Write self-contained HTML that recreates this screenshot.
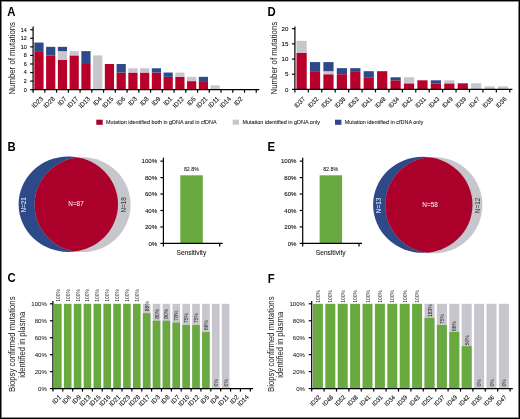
<!DOCTYPE html>
<html><head><meta charset="utf-8"><style>
html,body{margin:0;padding:0;background:#fff;}
body{width:520px;height:419px;overflow:hidden;position:relative;}
svg{position:absolute;left:0;top:0;display:block;will-change:transform;}
svg text{font-family:"Liberation Sans", sans-serif;}
</style></head><body>
<svg width="520" height="419" viewBox="0 0 520 419">
<defs><filter id="soft" x="0" y="0" width="1" height="1"><feGaussianBlur stdDeviation="0.35"/></filter></defs>
<rect x="0" y="0" width="520" height="419" fill="#fff"/>
<g filter="url(#soft)">
<rect x="0" y="0" width="520" height="419" fill="#fff"/>
<text x="7.2" y="15.5" font-size="12.6" text-anchor="start" fill="#000" font-weight="bold" textLength="8.19" lengthAdjust="spacingAndGlyphs">A</text>
<text x="7.6" y="150.7" font-size="12.6" text-anchor="start" fill="#000" font-weight="bold" textLength="8.19" lengthAdjust="spacingAndGlyphs">B</text>
<text x="7.4" y="282.4" font-size="12.6" text-anchor="start" fill="#000" font-weight="bold" textLength="8.19" lengthAdjust="spacingAndGlyphs">C</text>
<text x="267.4" y="15.6" font-size="12.6" text-anchor="start" fill="#000" font-weight="bold" textLength="8.19" lengthAdjust="spacingAndGlyphs">D</text>
<text x="267.6" y="150.8" font-size="12.6" text-anchor="start" fill="#000" font-weight="bold" textLength="7.56" lengthAdjust="spacingAndGlyphs">E</text>
<text x="267.8" y="282.5" font-size="12.6" text-anchor="start" fill="#000" font-weight="bold" textLength="6.93" lengthAdjust="spacingAndGlyphs">F</text>
<rect x="34.37" y="51.13" width="9.2" height="38.57" fill="#b7002c"/>
<rect x="34.37" y="42.55" width="9.2" height="8.57" fill="#2f4987"/>
<text x="43.57" y="99.3" font-size="6.5" text-anchor="end" fill="#111" stroke="#111" stroke-width="0.1" transform="rotate(-45 43.57 99.3)" textLength="13.04" lengthAdjust="spacingAndGlyphs">ID23</text>
<rect x="46.12" y="55.41" width="9.2" height="34.29" fill="#b7002c"/>
<rect x="46.12" y="46.84" width="9.2" height="8.57" fill="#2f4987"/>
<text x="55.32" y="99.3" font-size="6.5" text-anchor="end" fill="#111" stroke="#111" stroke-width="0.1" transform="rotate(-45 55.32 99.3)" textLength="13.04" lengthAdjust="spacingAndGlyphs">ID28</text>
<rect x="57.86" y="59.7" width="9.2" height="30" fill="#b7002c"/>
<rect x="57.86" y="51.13" width="9.2" height="8.57" fill="#c7c6cc"/>
<rect x="57.86" y="46.84" width="9.2" height="4.29" fill="#2f4987"/>
<text x="67.06" y="99.3" font-size="6.5" text-anchor="end" fill="#111" stroke="#111" stroke-width="0.1" transform="rotate(-45 67.06 99.3)" textLength="9.61" lengthAdjust="spacingAndGlyphs">ID7</text>
<rect x="69.61" y="55.41" width="9.2" height="34.29" fill="#b7002c"/>
<rect x="69.61" y="51.13" width="9.2" height="4.29" fill="#c7c6cc"/>
<text x="78.81" y="99.3" font-size="6.5" text-anchor="end" fill="#111" stroke="#111" stroke-width="0.1" transform="rotate(-45 78.81 99.3)" textLength="13.04" lengthAdjust="spacingAndGlyphs">ID17</text>
<rect x="81.35" y="63.98" width="9.2" height="25.72" fill="#b7002c"/>
<rect x="81.35" y="51.13" width="9.2" height="12.86" fill="#2f4987"/>
<text x="90.55" y="99.3" font-size="6.5" text-anchor="end" fill="#111" stroke="#111" stroke-width="0.1" transform="rotate(-45 90.55 99.3)" textLength="13.04" lengthAdjust="spacingAndGlyphs">ID13</text>
<rect x="93.1" y="55.41" width="9.2" height="34.29" fill="#c7c6cc"/>
<text x="102.3" y="99.3" font-size="6.5" text-anchor="end" fill="#111" stroke="#111" stroke-width="0.1" transform="rotate(-45 102.3 99.3)" textLength="9.61" lengthAdjust="spacingAndGlyphs">ID4</text>
<rect x="104.84" y="63.98" width="9.2" height="25.72" fill="#b7002c"/>
<text x="114.04" y="99.3" font-size="6.5" text-anchor="end" fill="#111" stroke="#111" stroke-width="0.1" transform="rotate(-45 114.04 99.3)" textLength="13.04" lengthAdjust="spacingAndGlyphs">ID15</text>
<rect x="116.59" y="72.56" width="9.2" height="17.14" fill="#b7002c"/>
<rect x="116.59" y="63.98" width="9.2" height="8.57" fill="#2f4987"/>
<text x="125.79" y="99.3" font-size="6.5" text-anchor="end" fill="#111" stroke="#111" stroke-width="0.1" transform="rotate(-45 125.79 99.3)" textLength="9.61" lengthAdjust="spacingAndGlyphs">ID6</text>
<rect x="128.33" y="72.56" width="9.2" height="17.14" fill="#b7002c"/>
<rect x="128.33" y="68.27" width="9.2" height="4.29" fill="#c7c6cc"/>
<text x="137.53" y="99.3" font-size="6.5" text-anchor="end" fill="#111" stroke="#111" stroke-width="0.1" transform="rotate(-45 137.53 99.3)" textLength="9.61" lengthAdjust="spacingAndGlyphs">ID3</text>
<rect x="140.08" y="72.56" width="9.2" height="17.14" fill="#b7002c"/>
<rect x="140.08" y="68.27" width="9.2" height="4.29" fill="#c7c6cc"/>
<text x="149.28" y="99.3" font-size="6.5" text-anchor="end" fill="#111" stroke="#111" stroke-width="0.1" transform="rotate(-45 149.28 99.3)" textLength="9.61" lengthAdjust="spacingAndGlyphs">ID8</text>
<rect x="151.82" y="72.56" width="9.2" height="17.14" fill="#b7002c"/>
<rect x="151.82" y="68.27" width="9.2" height="4.29" fill="#2f4987"/>
<text x="161.02" y="99.3" font-size="6.5" text-anchor="end" fill="#111" stroke="#111" stroke-width="0.1" transform="rotate(-45 161.02 99.3)" textLength="9.61" lengthAdjust="spacingAndGlyphs">ID9</text>
<rect x="163.57" y="76.84" width="9.2" height="12.86" fill="#b7002c"/>
<rect x="163.57" y="72.56" width="9.2" height="4.29" fill="#2f4987"/>
<text x="172.77" y="99.3" font-size="6.5" text-anchor="end" fill="#111" stroke="#111" stroke-width="0.1" transform="rotate(-45 172.77 99.3)" textLength="9.61" lengthAdjust="spacingAndGlyphs">ID1</text>
<rect x="175.31" y="76.84" width="9.2" height="12.86" fill="#b7002c"/>
<rect x="175.31" y="72.56" width="9.2" height="4.29" fill="#c7c6cc"/>
<text x="184.51" y="99.3" font-size="6.5" text-anchor="end" fill="#111" stroke="#111" stroke-width="0.1" transform="rotate(-45 184.51 99.3)" textLength="13.04" lengthAdjust="spacingAndGlyphs">ID12</text>
<rect x="187.06" y="81.13" width="9.2" height="8.57" fill="#b7002c"/>
<rect x="187.06" y="76.84" width="9.2" height="4.29" fill="#c7c6cc"/>
<text x="196.26" y="99.3" font-size="6.5" text-anchor="end" fill="#111" stroke="#111" stroke-width="0.1" transform="rotate(-45 196.26 99.3)" textLength="9.61" lengthAdjust="spacingAndGlyphs">ID5</text>
<rect x="198.8" y="81.13" width="9.2" height="8.57" fill="#b7002c"/>
<rect x="198.8" y="76.84" width="9.2" height="4.29" fill="#2f4987"/>
<text x="208" y="99.3" font-size="6.5" text-anchor="end" fill="#111" stroke="#111" stroke-width="0.1" transform="rotate(-45 208 99.3)" textLength="13.04" lengthAdjust="spacingAndGlyphs">ID21</text>
<rect x="210.55" y="85.41" width="9.2" height="4.29" fill="#c7c6cc"/>
<text x="219.75" y="99.3" font-size="6.5" text-anchor="end" fill="#111" stroke="#111" stroke-width="0.1" transform="rotate(-45 219.75 99.3)" textLength="12.58" lengthAdjust="spacingAndGlyphs">ID11</text>
<text x="231.49" y="99.3" font-size="6.5" text-anchor="end" fill="#111" stroke="#111" stroke-width="0.1" transform="rotate(-45 231.49 99.3)" textLength="13.04" lengthAdjust="spacingAndGlyphs">ID14</text>
<text x="243.24" y="99.3" font-size="6.5" text-anchor="end" fill="#111" stroke="#111" stroke-width="0.1" transform="rotate(-45 243.24 99.3)" textLength="9.61" lengthAdjust="spacingAndGlyphs">ID2</text>
<line x1="33.1" y1="26.6" x2="33.1" y2="90.3" stroke="#000" stroke-width="1.2"/>
<line x1="30.2" y1="89.7" x2="33.1" y2="89.7" stroke="#000" stroke-width="1.2"/>
<text x="26.8" y="91.55" font-size="6.1" text-anchor="end" fill="#111" stroke="#111" stroke-width="0.12" textLength="2.99" lengthAdjust="spacingAndGlyphs">0</text>
<line x1="30.2" y1="81.13" x2="33.1" y2="81.13" stroke="#000" stroke-width="1.2"/>
<text x="26.8" y="82.98" font-size="6.1" text-anchor="end" fill="#111" stroke="#111" stroke-width="0.12" textLength="2.99" lengthAdjust="spacingAndGlyphs">2</text>
<line x1="30.2" y1="72.56" x2="33.1" y2="72.56" stroke="#000" stroke-width="1.2"/>
<text x="26.8" y="74.41" font-size="6.1" text-anchor="end" fill="#111" stroke="#111" stroke-width="0.12" textLength="2.99" lengthAdjust="spacingAndGlyphs">4</text>
<line x1="30.2" y1="63.98" x2="33.1" y2="63.98" stroke="#000" stroke-width="1.2"/>
<text x="26.8" y="65.83" font-size="6.1" text-anchor="end" fill="#111" stroke="#111" stroke-width="0.12" textLength="2.99" lengthAdjust="spacingAndGlyphs">6</text>
<line x1="30.2" y1="55.41" x2="33.1" y2="55.41" stroke="#000" stroke-width="1.2"/>
<text x="26.8" y="57.26" font-size="6.1" text-anchor="end" fill="#111" stroke="#111" stroke-width="0.12" textLength="2.99" lengthAdjust="spacingAndGlyphs">8</text>
<line x1="30.2" y1="46.84" x2="33.1" y2="46.84" stroke="#000" stroke-width="1.2"/>
<text x="26.8" y="48.69" font-size="6.1" text-anchor="end" fill="#111" stroke="#111" stroke-width="0.12" textLength="5.97" lengthAdjust="spacingAndGlyphs">10</text>
<line x1="30.2" y1="38.27" x2="33.1" y2="38.27" stroke="#000" stroke-width="1.2"/>
<text x="26.8" y="40.12" font-size="6.1" text-anchor="end" fill="#111" stroke="#111" stroke-width="0.12" textLength="5.97" lengthAdjust="spacingAndGlyphs">12</text>
<line x1="30.2" y1="29.7" x2="33.1" y2="29.7" stroke="#000" stroke-width="1.2"/>
<text x="26.8" y="31.55" font-size="6.1" text-anchor="end" fill="#111" stroke="#111" stroke-width="0.12" textLength="5.97" lengthAdjust="spacingAndGlyphs">14</text>
<line x1="32.5" y1="89.7" x2="259.3" y2="89.7" stroke="#000" stroke-width="1.2"/>
<line x1="33.1" y1="89.7" x2="33.1" y2="92.7" stroke="#000" stroke-width="1.2"/>
<line x1="44.84" y1="89.7" x2="44.84" y2="92.7" stroke="#000" stroke-width="1.2"/>
<line x1="56.59" y1="89.7" x2="56.59" y2="92.7" stroke="#000" stroke-width="1.2"/>
<line x1="68.34" y1="89.7" x2="68.34" y2="92.7" stroke="#000" stroke-width="1.2"/>
<line x1="80.08" y1="89.7" x2="80.08" y2="92.7" stroke="#000" stroke-width="1.2"/>
<line x1="91.82" y1="89.7" x2="91.82" y2="92.7" stroke="#000" stroke-width="1.2"/>
<line x1="103.57" y1="89.7" x2="103.57" y2="92.7" stroke="#000" stroke-width="1.2"/>
<line x1="115.31" y1="89.7" x2="115.31" y2="92.7" stroke="#000" stroke-width="1.2"/>
<line x1="127.06" y1="89.7" x2="127.06" y2="92.7" stroke="#000" stroke-width="1.2"/>
<line x1="138.81" y1="89.7" x2="138.81" y2="92.7" stroke="#000" stroke-width="1.2"/>
<line x1="150.55" y1="89.7" x2="150.55" y2="92.7" stroke="#000" stroke-width="1.2"/>
<line x1="162.29" y1="89.7" x2="162.29" y2="92.7" stroke="#000" stroke-width="1.2"/>
<line x1="174.04" y1="89.7" x2="174.04" y2="92.7" stroke="#000" stroke-width="1.2"/>
<line x1="185.78" y1="89.7" x2="185.78" y2="92.7" stroke="#000" stroke-width="1.2"/>
<line x1="197.53" y1="89.7" x2="197.53" y2="92.7" stroke="#000" stroke-width="1.2"/>
<line x1="209.27" y1="89.7" x2="209.27" y2="92.7" stroke="#000" stroke-width="1.2"/>
<line x1="221.02" y1="89.7" x2="221.02" y2="92.7" stroke="#000" stroke-width="1.2"/>
<line x1="232.76" y1="89.7" x2="232.76" y2="92.7" stroke="#000" stroke-width="1.2"/>
<line x1="244.51" y1="89.7" x2="244.51" y2="92.7" stroke="#000" stroke-width="1.2"/>
<line x1="256.25" y1="89.7" x2="256.25" y2="92.7" stroke="#000" stroke-width="1.2"/>
<text x="14.9" y="58.3" font-size="9.2" text-anchor="middle" fill="#1a1a1a" transform="rotate(-90 14.9 58.3)" textLength="72.6" lengthAdjust="spacingAndGlyphs">Number of mutations</text>
<rect x="296.51" y="52.98" width="10.2" height="36.42" fill="#b7002c"/>
<rect x="296.51" y="40.84" width="10.2" height="12.14" fill="#c7c6cc"/>
<text x="305.51" y="99.5" font-size="6.2" text-anchor="end" fill="#111" stroke="#111" stroke-width="0.1" transform="rotate(-45 305.51 99.5)" textLength="12.44" lengthAdjust="spacingAndGlyphs">ID37</text>
<rect x="309.94" y="71.19" width="10.2" height="18.21" fill="#b7002c"/>
<rect x="309.94" y="62.08" width="10.2" height="9.11" fill="#2f4987"/>
<text x="318.94" y="99.5" font-size="6.2" text-anchor="end" fill="#111" stroke="#111" stroke-width="0.1" transform="rotate(-45 318.94 99.5)" textLength="12.44" lengthAdjust="spacingAndGlyphs">ID32</text>
<rect x="323.37" y="74.23" width="10.2" height="15.18" fill="#b7002c"/>
<rect x="323.37" y="71.19" width="10.2" height="3.04" fill="#c7c6cc"/>
<rect x="323.37" y="62.09" width="10.2" height="9.11" fill="#2f4987"/>
<text x="332.37" y="99.5" font-size="6.2" text-anchor="end" fill="#111" stroke="#111" stroke-width="0.1" transform="rotate(-45 332.37 99.5)" textLength="12.44" lengthAdjust="spacingAndGlyphs">ID51</text>
<rect x="336.8" y="74.23" width="10.2" height="15.18" fill="#b7002c"/>
<rect x="336.8" y="68.16" width="10.2" height="6.07" fill="#2f4987"/>
<text x="345.8" y="99.5" font-size="6.2" text-anchor="end" fill="#111" stroke="#111" stroke-width="0.1" transform="rotate(-45 345.8 99.5)" textLength="12.44" lengthAdjust="spacingAndGlyphs">ID38</text>
<rect x="350.23" y="71.19" width="10.2" height="18.21" fill="#b7002c"/>
<rect x="350.23" y="68.16" width="10.2" height="3.04" fill="#2f4987"/>
<text x="359.23" y="99.5" font-size="6.2" text-anchor="end" fill="#111" stroke="#111" stroke-width="0.1" transform="rotate(-45 359.23 99.5)" textLength="12.44" lengthAdjust="spacingAndGlyphs">ID52</text>
<rect x="363.66" y="77.26" width="10.2" height="12.14" fill="#b7002c"/>
<rect x="363.66" y="71.19" width="10.2" height="6.07" fill="#2f4987"/>
<text x="372.66" y="99.5" font-size="6.2" text-anchor="end" fill="#111" stroke="#111" stroke-width="0.1" transform="rotate(-45 372.66 99.5)" textLength="12.44" lengthAdjust="spacingAndGlyphs">ID41</text>
<rect x="377.09" y="71.19" width="10.2" height="18.21" fill="#b7002c"/>
<text x="386.09" y="99.5" font-size="6.2" text-anchor="end" fill="#111" stroke="#111" stroke-width="0.1" transform="rotate(-45 386.09 99.5)" textLength="12.44" lengthAdjust="spacingAndGlyphs">ID48</text>
<rect x="390.52" y="80.3" width="10.2" height="9.11" fill="#b7002c"/>
<rect x="390.52" y="77.26" width="10.2" height="3.04" fill="#2f4987"/>
<text x="399.52" y="99.5" font-size="6.2" text-anchor="end" fill="#111" stroke="#111" stroke-width="0.1" transform="rotate(-45 399.52 99.5)" textLength="12.44" lengthAdjust="spacingAndGlyphs">ID34</text>
<rect x="403.95" y="83.33" width="10.2" height="6.07" fill="#b7002c"/>
<rect x="403.95" y="77.26" width="10.2" height="6.07" fill="#c7c6cc"/>
<text x="412.95" y="99.5" font-size="6.2" text-anchor="end" fill="#111" stroke="#111" stroke-width="0.1" transform="rotate(-45 412.95 99.5)" textLength="12.44" lengthAdjust="spacingAndGlyphs">ID42</text>
<rect x="417.38" y="80.3" width="10.2" height="9.11" fill="#b7002c"/>
<text x="426.38" y="99.5" font-size="6.2" text-anchor="end" fill="#111" stroke="#111" stroke-width="0.1" transform="rotate(-45 426.38 99.5)" textLength="12.44" lengthAdjust="spacingAndGlyphs">ID31</text>
<rect x="430.81" y="83.33" width="10.2" height="6.07" fill="#b7002c"/>
<rect x="430.81" y="80.3" width="10.2" height="3.04" fill="#2f4987"/>
<text x="439.81" y="99.5" font-size="6.2" text-anchor="end" fill="#111" stroke="#111" stroke-width="0.1" transform="rotate(-45 439.81 99.5)" textLength="12.44" lengthAdjust="spacingAndGlyphs">ID43</text>
<rect x="444.24" y="83.33" width="10.2" height="6.07" fill="#b7002c"/>
<rect x="444.24" y="80.3" width="10.2" height="3.04" fill="#c7c6cc"/>
<text x="453.24" y="99.5" font-size="6.2" text-anchor="end" fill="#111" stroke="#111" stroke-width="0.1" transform="rotate(-45 453.24 99.5)" textLength="12.44" lengthAdjust="spacingAndGlyphs">ID49</text>
<rect x="457.67" y="83.33" width="10.2" height="6.07" fill="#b7002c"/>
<text x="466.67" y="99.5" font-size="6.2" text-anchor="end" fill="#111" stroke="#111" stroke-width="0.1" transform="rotate(-45 466.67 99.5)" textLength="12.44" lengthAdjust="spacingAndGlyphs">ID39</text>
<rect x="471.1" y="83.33" width="10.2" height="6.07" fill="#c7c6cc"/>
<text x="480.1" y="99.5" font-size="6.2" text-anchor="end" fill="#111" stroke="#111" stroke-width="0.1" transform="rotate(-45 480.1 99.5)" textLength="12.44" lengthAdjust="spacingAndGlyphs">ID47</text>
<rect x="484.53" y="86.37" width="10.2" height="3.04" fill="#c7c6cc"/>
<text x="493.53" y="99.5" font-size="6.2" text-anchor="end" fill="#111" stroke="#111" stroke-width="0.1" transform="rotate(-45 493.53 99.5)" textLength="12.44" lengthAdjust="spacingAndGlyphs">ID35</text>
<rect x="497.96" y="86.37" width="10.2" height="3.04" fill="#c7c6cc"/>
<text x="506.96" y="99.5" font-size="6.2" text-anchor="end" fill="#111" stroke="#111" stroke-width="0.1" transform="rotate(-45 506.96 99.5)" textLength="12.44" lengthAdjust="spacingAndGlyphs">ID36</text>
<line x1="294.9" y1="26.6" x2="294.9" y2="90" stroke="#000" stroke-width="1.2"/>
<line x1="292" y1="89.4" x2="294.9" y2="89.4" stroke="#000" stroke-width="1.2"/>
<text x="288.4" y="91.5" font-size="6.1" text-anchor="end" fill="#111" stroke="#111" stroke-width="0.12" textLength="3.39" lengthAdjust="spacingAndGlyphs">0</text>
<line x1="292" y1="74.23" x2="294.9" y2="74.23" stroke="#000" stroke-width="1.2"/>
<text x="288.4" y="76.33" font-size="6.1" text-anchor="end" fill="#111" stroke="#111" stroke-width="0.12" textLength="3.39" lengthAdjust="spacingAndGlyphs">5</text>
<line x1="292" y1="59.05" x2="294.9" y2="59.05" stroke="#000" stroke-width="1.2"/>
<text x="288.4" y="61.15" font-size="6.1" text-anchor="end" fill="#111" stroke="#111" stroke-width="0.12" textLength="6.78" lengthAdjust="spacingAndGlyphs">10</text>
<line x1="292" y1="43.88" x2="294.9" y2="43.88" stroke="#000" stroke-width="1.2"/>
<text x="288.4" y="45.98" font-size="6.1" text-anchor="end" fill="#111" stroke="#111" stroke-width="0.12" textLength="6.78" lengthAdjust="spacingAndGlyphs">15</text>
<line x1="292" y1="28.7" x2="294.9" y2="28.7" stroke="#000" stroke-width="1.2"/>
<text x="288.4" y="30.8" font-size="6.1" text-anchor="end" fill="#111" stroke="#111" stroke-width="0.12" textLength="6.78" lengthAdjust="spacingAndGlyphs">20</text>
<line x1="294.3" y1="89.4" x2="512.4" y2="89.4" stroke="#000" stroke-width="1.2"/>
<line x1="294.9" y1="89.4" x2="294.9" y2="92.4" stroke="#000" stroke-width="1.2"/>
<line x1="308.33" y1="89.4" x2="308.33" y2="92.4" stroke="#000" stroke-width="1.2"/>
<line x1="321.76" y1="89.4" x2="321.76" y2="92.4" stroke="#000" stroke-width="1.2"/>
<line x1="335.19" y1="89.4" x2="335.19" y2="92.4" stroke="#000" stroke-width="1.2"/>
<line x1="348.62" y1="89.4" x2="348.62" y2="92.4" stroke="#000" stroke-width="1.2"/>
<line x1="362.05" y1="89.4" x2="362.05" y2="92.4" stroke="#000" stroke-width="1.2"/>
<line x1="375.48" y1="89.4" x2="375.48" y2="92.4" stroke="#000" stroke-width="1.2"/>
<line x1="388.91" y1="89.4" x2="388.91" y2="92.4" stroke="#000" stroke-width="1.2"/>
<line x1="402.34" y1="89.4" x2="402.34" y2="92.4" stroke="#000" stroke-width="1.2"/>
<line x1="415.77" y1="89.4" x2="415.77" y2="92.4" stroke="#000" stroke-width="1.2"/>
<line x1="429.2" y1="89.4" x2="429.2" y2="92.4" stroke="#000" stroke-width="1.2"/>
<line x1="442.63" y1="89.4" x2="442.63" y2="92.4" stroke="#000" stroke-width="1.2"/>
<line x1="456.06" y1="89.4" x2="456.06" y2="92.4" stroke="#000" stroke-width="1.2"/>
<line x1="469.49" y1="89.4" x2="469.49" y2="92.4" stroke="#000" stroke-width="1.2"/>
<line x1="482.92" y1="89.4" x2="482.92" y2="92.4" stroke="#000" stroke-width="1.2"/>
<line x1="496.35" y1="89.4" x2="496.35" y2="92.4" stroke="#000" stroke-width="1.2"/>
<line x1="509.78" y1="89.4" x2="509.78" y2="92.4" stroke="#000" stroke-width="1.2"/>
<text x="276.6" y="58.1" font-size="9.2" text-anchor="middle" fill="#1a1a1a" transform="rotate(-90 276.6 58.1)" textLength="72.6" lengthAdjust="spacingAndGlyphs">Number of mutations</text>
<rect x="96.3" y="119.7" width="6.4" height="5.1" fill="#aa0029"/>
<text x="106.1" y="124" font-size="5.6" text-anchor="start" fill="#111" stroke="#111" stroke-width="0.06" textLength="110.4" lengthAdjust="spacingAndGlyphs">Mutation identified both in gDNA and in cfDNA</text>
<rect x="232.6" y="119.7" width="6.4" height="5.1" fill="#c7c6cc"/>
<text x="242.4" y="124" font-size="5.6" text-anchor="start" fill="#111" stroke="#111" stroke-width="0.06" textLength="77.5" lengthAdjust="spacingAndGlyphs">Mutation identified in gDNA only</text>
<rect x="335" y="119.7" width="6.4" height="5.1" fill="#2f4987"/>
<text x="344.8" y="124" font-size="5.6" text-anchor="start" fill="#111" stroke="#111" stroke-width="0.06" textLength="78.5" lengthAdjust="spacingAndGlyphs">Mutation identified in cfDNA only</text>
<defs><clipPath id="cb68"><ellipse cx="68.3" cy="204.2" rx="49.7" ry="47.8"/></clipPath></defs>
<ellipse cx="68.3" cy="204.2" rx="49.7" ry="47.8" fill="#2f4987"/>
<ellipse cx="82.6" cy="204.7" rx="48" ry="47.4" fill="#c7c6cc"/>
<ellipse cx="82.6" cy="204.7" rx="48" ry="47.4" fill="#aa0029" clip-path="url(#cb68)"/>
<text x="76" y="206.4" font-size="6.4" text-anchor="middle" fill="#fff">N=87</text>
<text x="26.2" y="204.8" font-size="6.4" text-anchor="middle" fill="#f4f4f8" transform="rotate(-90 26.2 204.8)">N=21</text>
<text x="126.5" y="204.8" font-size="6.4" text-anchor="middle" fill="#333" transform="rotate(-90 126.5 204.8)">N=18</text>
<defs><clipPath id="cb422"><ellipse cx="422.8" cy="204.8" rx="49.7" ry="48"/></clipPath></defs>
<ellipse cx="422.8" cy="204.8" rx="49.7" ry="48" fill="#2f4987"/>
<ellipse cx="433.8" cy="205.1" rx="48.6" ry="48.2" fill="#c7c6cc"/>
<ellipse cx="433.8" cy="205.1" rx="48.6" ry="48.2" fill="#aa0029" clip-path="url(#cb422)"/>
<text x="430.1" y="207" font-size="6.4" text-anchor="middle" fill="#fff">N=58</text>
<text x="380.9" y="205.4" font-size="6.4" text-anchor="middle" fill="#f4f4f8" transform="rotate(-90 380.9 205.4)">N=13</text>
<text x="479.9" y="205.4" font-size="6.4" text-anchor="middle" fill="#333" transform="rotate(-90 479.9 205.4)">N=12</text>
<rect x="180.3" y="175.3" width="22.5" height="68.1" fill="#69aa41"/>
<line x1="163.4" y1="157.8" x2="163.4" y2="244" stroke="#000" stroke-width="1.2"/>
<line x1="160.4" y1="243.4" x2="163.4" y2="243.4" stroke="#000" stroke-width="1.2"/>
<text x="157.2" y="245.6" font-size="6.1" text-anchor="end" fill="#111" stroke="#111" stroke-width="0.1">0%</text>
<line x1="160.4" y1="226.95" x2="163.4" y2="226.95" stroke="#000" stroke-width="1.2"/>
<text x="157.2" y="229.15" font-size="6.1" text-anchor="end" fill="#111" stroke="#111" stroke-width="0.1">20%</text>
<line x1="160.4" y1="210.5" x2="163.4" y2="210.5" stroke="#000" stroke-width="1.2"/>
<text x="157.2" y="212.7" font-size="6.1" text-anchor="end" fill="#111" stroke="#111" stroke-width="0.1">40%</text>
<line x1="160.4" y1="194.05" x2="163.4" y2="194.05" stroke="#000" stroke-width="1.2"/>
<text x="157.2" y="196.25" font-size="6.1" text-anchor="end" fill="#111" stroke="#111" stroke-width="0.1">60%</text>
<line x1="160.4" y1="177.6" x2="163.4" y2="177.6" stroke="#000" stroke-width="1.2"/>
<text x="157.2" y="179.8" font-size="6.1" text-anchor="end" fill="#111" stroke="#111" stroke-width="0.1">80%</text>
<line x1="160.4" y1="161.15" x2="163.4" y2="161.15" stroke="#000" stroke-width="1.2"/>
<text x="157.2" y="163.35" font-size="6.1" text-anchor="end" fill="#111" stroke="#111" stroke-width="0.1">100%</text>
<line x1="162.8" y1="243.4" x2="222.7" y2="243.4" stroke="#000" stroke-width="1.2"/>
<line x1="163.4" y1="243.4" x2="163.4" y2="246.4" stroke="#000" stroke-width="1.2"/>
<line x1="219.7" y1="243.4" x2="219.7" y2="246.4" stroke="#000" stroke-width="1.2"/>
<text x="191.4" y="171" font-size="5.3" text-anchor="middle" fill="#111" stroke="#111" stroke-width="0.05">82.8%</text>
<text x="191.4" y="254.6" font-size="6.6" text-anchor="middle" fill="#111" stroke="#111" stroke-width="0.05">Sensitivity</text>
<rect x="319.6" y="175.3" width="22.5" height="68.1" fill="#69aa41"/>
<line x1="302.7" y1="157.8" x2="302.7" y2="244" stroke="#000" stroke-width="1.2"/>
<line x1="299.7" y1="243.4" x2="302.7" y2="243.4" stroke="#000" stroke-width="1.2"/>
<text x="296.5" y="245.6" font-size="6.1" text-anchor="end" fill="#111" stroke="#111" stroke-width="0.1">0%</text>
<line x1="299.7" y1="226.95" x2="302.7" y2="226.95" stroke="#000" stroke-width="1.2"/>
<text x="296.5" y="229.15" font-size="6.1" text-anchor="end" fill="#111" stroke="#111" stroke-width="0.1">20%</text>
<line x1="299.7" y1="210.5" x2="302.7" y2="210.5" stroke="#000" stroke-width="1.2"/>
<text x="296.5" y="212.7" font-size="6.1" text-anchor="end" fill="#111" stroke="#111" stroke-width="0.1">40%</text>
<line x1="299.7" y1="194.05" x2="302.7" y2="194.05" stroke="#000" stroke-width="1.2"/>
<text x="296.5" y="196.25" font-size="6.1" text-anchor="end" fill="#111" stroke="#111" stroke-width="0.1">60%</text>
<line x1="299.7" y1="177.6" x2="302.7" y2="177.6" stroke="#000" stroke-width="1.2"/>
<text x="296.5" y="179.8" font-size="6.1" text-anchor="end" fill="#111" stroke="#111" stroke-width="0.1">80%</text>
<line x1="299.7" y1="161.15" x2="302.7" y2="161.15" stroke="#000" stroke-width="1.2"/>
<text x="296.5" y="163.35" font-size="6.1" text-anchor="end" fill="#111" stroke="#111" stroke-width="0.1">100%</text>
<line x1="302.1" y1="243.4" x2="362" y2="243.4" stroke="#000" stroke-width="1.2"/>
<line x1="302.7" y1="243.4" x2="302.7" y2="246.4" stroke="#000" stroke-width="1.2"/>
<line x1="359" y1="243.4" x2="359" y2="246.4" stroke="#000" stroke-width="1.2"/>
<text x="330.7" y="171" font-size="5.3" text-anchor="middle" fill="#111" stroke="#111" stroke-width="0.05">82.8%</text>
<text x="330.7" y="254.6" font-size="6.6" text-anchor="middle" fill="#111" stroke="#111" stroke-width="0.05">Sensitivity</text>
<rect x="54.04" y="303.8" width="7.6" height="84.8" fill="#69aa41"/>
<text x="59.85" y="301.8" font-size="5.6" text-anchor="start" fill="#222" transform="rotate(-90 59.85 301.8)" textLength="12.89" lengthAdjust="spacingAndGlyphs">100%</text>
<text x="61.63" y="397.6" font-size="6.5" text-anchor="end" fill="#111" stroke="#111" stroke-width="0.1" transform="rotate(-45 61.63 397.6)" textLength="9.61" lengthAdjust="spacingAndGlyphs">ID1</text>
<rect x="63.91" y="303.8" width="7.6" height="84.8" fill="#69aa41"/>
<text x="69.72" y="301.8" font-size="5.6" text-anchor="start" fill="#222" transform="rotate(-90 69.72 301.8)" textLength="12.89" lengthAdjust="spacingAndGlyphs">100%</text>
<text x="71.5" y="397.6" font-size="6.5" text-anchor="end" fill="#111" stroke="#111" stroke-width="0.1" transform="rotate(-45 71.5 397.6)" textLength="9.61" lengthAdjust="spacingAndGlyphs">ID6</text>
<rect x="73.77" y="303.8" width="7.6" height="84.8" fill="#69aa41"/>
<text x="79.59" y="301.8" font-size="5.6" text-anchor="start" fill="#222" transform="rotate(-90 79.59 301.8)" textLength="12.89" lengthAdjust="spacingAndGlyphs">100%</text>
<text x="81.37" y="397.6" font-size="6.5" text-anchor="end" fill="#111" stroke="#111" stroke-width="0.1" transform="rotate(-45 81.37 397.6)" textLength="9.61" lengthAdjust="spacingAndGlyphs">ID9</text>
<rect x="83.64" y="303.8" width="7.6" height="84.8" fill="#69aa41"/>
<text x="89.46" y="301.8" font-size="5.6" text-anchor="start" fill="#222" transform="rotate(-90 89.46 301.8)" textLength="12.89" lengthAdjust="spacingAndGlyphs">100%</text>
<text x="91.24" y="397.6" font-size="6.5" text-anchor="end" fill="#111" stroke="#111" stroke-width="0.1" transform="rotate(-45 91.24 397.6)" textLength="13.04" lengthAdjust="spacingAndGlyphs">ID13</text>
<rect x="93.52" y="303.8" width="7.6" height="84.8" fill="#69aa41"/>
<text x="99.33" y="301.8" font-size="5.6" text-anchor="start" fill="#222" transform="rotate(-90 99.33 301.8)" textLength="12.89" lengthAdjust="spacingAndGlyphs">100%</text>
<text x="101.11" y="397.6" font-size="6.5" text-anchor="end" fill="#111" stroke="#111" stroke-width="0.1" transform="rotate(-45 101.11 397.6)" textLength="13.04" lengthAdjust="spacingAndGlyphs">ID15</text>
<rect x="103.39" y="303.8" width="7.6" height="84.8" fill="#69aa41"/>
<text x="109.2" y="301.8" font-size="5.6" text-anchor="start" fill="#222" transform="rotate(-90 109.2 301.8)" textLength="12.89" lengthAdjust="spacingAndGlyphs">100%</text>
<text x="110.98" y="397.6" font-size="6.5" text-anchor="end" fill="#111" stroke="#111" stroke-width="0.1" transform="rotate(-45 110.98 397.6)" textLength="13.04" lengthAdjust="spacingAndGlyphs">ID16</text>
<rect x="113.26" y="303.8" width="7.6" height="84.8" fill="#69aa41"/>
<text x="119.07" y="301.8" font-size="5.6" text-anchor="start" fill="#222" transform="rotate(-90 119.07 301.8)" textLength="12.89" lengthAdjust="spacingAndGlyphs">100%</text>
<text x="120.86" y="397.6" font-size="6.5" text-anchor="end" fill="#111" stroke="#111" stroke-width="0.1" transform="rotate(-45 120.86 397.6)" textLength="13.04" lengthAdjust="spacingAndGlyphs">ID21</text>
<rect x="123.12" y="303.8" width="7.6" height="84.8" fill="#69aa41"/>
<text x="128.94" y="301.8" font-size="5.6" text-anchor="start" fill="#222" transform="rotate(-90 128.94 301.8)" textLength="12.89" lengthAdjust="spacingAndGlyphs">100%</text>
<text x="130.72" y="397.6" font-size="6.5" text-anchor="end" fill="#111" stroke="#111" stroke-width="0.1" transform="rotate(-45 130.72 397.6)" textLength="13.04" lengthAdjust="spacingAndGlyphs">ID23</text>
<rect x="132.99" y="303.8" width="7.6" height="84.8" fill="#69aa41"/>
<text x="138.81" y="301.8" font-size="5.6" text-anchor="start" fill="#222" transform="rotate(-90 138.81 301.8)" textLength="12.89" lengthAdjust="spacingAndGlyphs">100%</text>
<text x="140.59" y="397.6" font-size="6.5" text-anchor="end" fill="#111" stroke="#111" stroke-width="0.1" transform="rotate(-45 140.59 397.6)" textLength="13.04" lengthAdjust="spacingAndGlyphs">ID28</text>
<rect x="142.86" y="303.8" width="7.6" height="84.8" fill="#c7c6cc"/>
<rect x="142.86" y="313.21" width="7.6" height="75.39" fill="#69aa41"/>
<text x="148.68" y="311.21" font-size="5.6" text-anchor="start" fill="#222" transform="rotate(-90 148.68 311.21)" textLength="10.09" lengthAdjust="spacingAndGlyphs">88%</text>
<text x="150.47" y="397.6" font-size="6.5" text-anchor="end" fill="#111" stroke="#111" stroke-width="0.1" transform="rotate(-45 150.47 397.6)" textLength="13.04" lengthAdjust="spacingAndGlyphs">ID17</text>
<rect x="152.73" y="303.8" width="7.6" height="84.8" fill="#c7c6cc"/>
<rect x="152.73" y="320.76" width="7.6" height="67.84" fill="#69aa41"/>
<text x="158.55" y="318.76" font-size="5.6" text-anchor="start" fill="#222" transform="rotate(-90 158.55 318.76)" textLength="10.09" lengthAdjust="spacingAndGlyphs">80%</text>
<text x="160.34" y="397.6" font-size="6.5" text-anchor="end" fill="#111" stroke="#111" stroke-width="0.1" transform="rotate(-45 160.34 397.6)" textLength="9.61" lengthAdjust="spacingAndGlyphs">ID3</text>
<rect x="162.6" y="303.8" width="7.6" height="84.8" fill="#c7c6cc"/>
<rect x="162.6" y="320.76" width="7.6" height="67.84" fill="#69aa41"/>
<text x="168.42" y="318.76" font-size="5.6" text-anchor="start" fill="#222" transform="rotate(-90 168.42 318.76)" textLength="10.09" lengthAdjust="spacingAndGlyphs">80%</text>
<text x="170.21" y="397.6" font-size="6.5" text-anchor="end" fill="#111" stroke="#111" stroke-width="0.1" transform="rotate(-45 170.21 397.6)" textLength="9.61" lengthAdjust="spacingAndGlyphs">ID8</text>
<rect x="172.47" y="303.8" width="7.6" height="84.8" fill="#c7c6cc"/>
<rect x="172.47" y="322.63" width="7.6" height="65.97" fill="#69aa41"/>
<text x="178.29" y="320.63" font-size="5.6" text-anchor="start" fill="#222" transform="rotate(-90 178.29 320.63)" textLength="10.09" lengthAdjust="spacingAndGlyphs">78%</text>
<text x="180.07" y="397.6" font-size="6.5" text-anchor="end" fill="#111" stroke="#111" stroke-width="0.1" transform="rotate(-45 180.07 397.6)" textLength="9.61" lengthAdjust="spacingAndGlyphs">ID7</text>
<rect x="182.34" y="303.8" width="7.6" height="84.8" fill="#c7c6cc"/>
<rect x="182.34" y="325" width="7.6" height="63.6" fill="#69aa41"/>
<text x="188.16" y="323" font-size="5.6" text-anchor="start" fill="#222" transform="rotate(-90 188.16 323)" textLength="10.09" lengthAdjust="spacingAndGlyphs">75%</text>
<text x="189.94" y="397.6" font-size="6.5" text-anchor="end" fill="#111" stroke="#111" stroke-width="0.1" transform="rotate(-45 189.94 397.6)" textLength="13.04" lengthAdjust="spacingAndGlyphs">ID10</text>
<rect x="192.21" y="303.8" width="7.6" height="84.8" fill="#c7c6cc"/>
<rect x="192.21" y="325" width="7.6" height="63.6" fill="#69aa41"/>
<text x="198.03" y="323" font-size="5.6" text-anchor="start" fill="#222" transform="rotate(-90 198.03 323)" textLength="10.09" lengthAdjust="spacingAndGlyphs">75%</text>
<text x="199.81" y="397.6" font-size="6.5" text-anchor="end" fill="#111" stroke="#111" stroke-width="0.1" transform="rotate(-45 199.81 397.6)" textLength="13.04" lengthAdjust="spacingAndGlyphs">ID12</text>
<rect x="202.08" y="303.8" width="7.6" height="84.8" fill="#c7c6cc"/>
<rect x="202.08" y="332.04" width="7.6" height="56.56" fill="#69aa41"/>
<text x="207.9" y="330.04" font-size="5.6" text-anchor="start" fill="#222" transform="rotate(-90 207.9 330.04)" textLength="10.09" lengthAdjust="spacingAndGlyphs">66%</text>
<text x="209.69" y="397.6" font-size="6.5" text-anchor="end" fill="#111" stroke="#111" stroke-width="0.1" transform="rotate(-45 209.69 397.6)" textLength="9.61" lengthAdjust="spacingAndGlyphs">ID5</text>
<rect x="211.95" y="303.8" width="7.6" height="84.8" fill="#c7c6cc"/>
<text x="217.77" y="386.4" font-size="5.6" text-anchor="start" fill="#222" transform="rotate(-90 217.77 386.4)" textLength="7.28" lengthAdjust="spacingAndGlyphs">0%</text>
<text x="219.56" y="397.6" font-size="6.5" text-anchor="end" fill="#111" stroke="#111" stroke-width="0.1" transform="rotate(-45 219.56 397.6)" textLength="9.61" lengthAdjust="spacingAndGlyphs">ID4</text>
<rect x="221.82" y="303.8" width="7.6" height="84.8" fill="#c7c6cc"/>
<text x="227.64" y="386.4" font-size="5.6" text-anchor="start" fill="#222" transform="rotate(-90 227.64 386.4)" textLength="7.28" lengthAdjust="spacingAndGlyphs">0%</text>
<text x="229.43" y="397.6" font-size="6.5" text-anchor="end" fill="#111" stroke="#111" stroke-width="0.1" transform="rotate(-45 229.43 397.6)" textLength="12.58" lengthAdjust="spacingAndGlyphs">ID11</text>
<text x="239.3" y="397.6" font-size="6.5" text-anchor="end" fill="#111" stroke="#111" stroke-width="0.1" transform="rotate(-45 239.3 397.6)" textLength="9.61" lengthAdjust="spacingAndGlyphs">ID2</text>
<text x="249.16" y="397.6" font-size="6.5" text-anchor="end" fill="#111" stroke="#111" stroke-width="0.1" transform="rotate(-45 249.16 397.6)" textLength="13.04" lengthAdjust="spacingAndGlyphs">ID14</text>
<line x1="52.9" y1="301" x2="52.9" y2="389.2" stroke="#000" stroke-width="1.2"/>
<line x1="49.9" y1="388.6" x2="52.9" y2="388.6" stroke="#000" stroke-width="1.2"/>
<text x="46.9" y="390.8" font-size="6.1" text-anchor="end" fill="#111" stroke="#111" stroke-width="0.03">0%</text>
<line x1="49.9" y1="371.64" x2="52.9" y2="371.64" stroke="#000" stroke-width="1.2"/>
<text x="46.9" y="373.84" font-size="6.1" text-anchor="end" fill="#111" stroke="#111" stroke-width="0.03">20%</text>
<line x1="49.9" y1="354.68" x2="52.9" y2="354.68" stroke="#000" stroke-width="1.2"/>
<text x="46.9" y="356.88" font-size="6.1" text-anchor="end" fill="#111" stroke="#111" stroke-width="0.03">40%</text>
<line x1="49.9" y1="337.72" x2="52.9" y2="337.72" stroke="#000" stroke-width="1.2"/>
<text x="46.9" y="339.92" font-size="6.1" text-anchor="end" fill="#111" stroke="#111" stroke-width="0.03">60%</text>
<line x1="49.9" y1="320.76" x2="52.9" y2="320.76" stroke="#000" stroke-width="1.2"/>
<text x="46.9" y="322.96" font-size="6.1" text-anchor="end" fill="#111" stroke="#111" stroke-width="0.03">80%</text>
<line x1="49.9" y1="303.8" x2="52.9" y2="303.8" stroke="#000" stroke-width="1.2"/>
<text x="46.9" y="306" font-size="6.1" text-anchor="end" fill="#111" stroke="#111" stroke-width="0.03">100%</text>
<line x1="52.3" y1="388.6" x2="253" y2="388.6" stroke="#000" stroke-width="1.2"/>
<line x1="52.9" y1="388.6" x2="52.9" y2="391.6" stroke="#000" stroke-width="1.2"/>
<line x1="62.77" y1="388.6" x2="62.77" y2="391.6" stroke="#000" stroke-width="1.2"/>
<line x1="72.64" y1="388.6" x2="72.64" y2="391.6" stroke="#000" stroke-width="1.2"/>
<line x1="82.51" y1="388.6" x2="82.51" y2="391.6" stroke="#000" stroke-width="1.2"/>
<line x1="92.38" y1="388.6" x2="92.38" y2="391.6" stroke="#000" stroke-width="1.2"/>
<line x1="102.25" y1="388.6" x2="102.25" y2="391.6" stroke="#000" stroke-width="1.2"/>
<line x1="112.12" y1="388.6" x2="112.12" y2="391.6" stroke="#000" stroke-width="1.2"/>
<line x1="121.99" y1="388.6" x2="121.99" y2="391.6" stroke="#000" stroke-width="1.2"/>
<line x1="131.86" y1="388.6" x2="131.86" y2="391.6" stroke="#000" stroke-width="1.2"/>
<line x1="141.73" y1="388.6" x2="141.73" y2="391.6" stroke="#000" stroke-width="1.2"/>
<line x1="151.6" y1="388.6" x2="151.6" y2="391.6" stroke="#000" stroke-width="1.2"/>
<line x1="161.47" y1="388.6" x2="161.47" y2="391.6" stroke="#000" stroke-width="1.2"/>
<line x1="171.34" y1="388.6" x2="171.34" y2="391.6" stroke="#000" stroke-width="1.2"/>
<line x1="181.21" y1="388.6" x2="181.21" y2="391.6" stroke="#000" stroke-width="1.2"/>
<line x1="191.08" y1="388.6" x2="191.08" y2="391.6" stroke="#000" stroke-width="1.2"/>
<line x1="200.95" y1="388.6" x2="200.95" y2="391.6" stroke="#000" stroke-width="1.2"/>
<line x1="210.82" y1="388.6" x2="210.82" y2="391.6" stroke="#000" stroke-width="1.2"/>
<line x1="220.69" y1="388.6" x2="220.69" y2="391.6" stroke="#000" stroke-width="1.2"/>
<line x1="230.56" y1="388.6" x2="230.56" y2="391.6" stroke="#000" stroke-width="1.2"/>
<line x1="240.43" y1="388.6" x2="240.43" y2="391.6" stroke="#000" stroke-width="1.2"/>
<line x1="250.3" y1="388.6" x2="250.3" y2="391.6" stroke="#000" stroke-width="1.2"/>
<text x="14.8" y="344.2" font-size="9.2" text-anchor="middle" fill="#222" transform="rotate(-90 14.8 344.2)" textLength="95.6" lengthAdjust="spacingAndGlyphs">Biopsy confirmed mutations</text>
<text x="24.6" y="344.8" font-size="9.2" text-anchor="middle" fill="#222" transform="rotate(-90 24.6 344.8)" textLength="66" lengthAdjust="spacingAndGlyphs">identified in plasma</text>
<rect x="312.9" y="303.8" width="10" height="84.8" fill="#69aa41"/>
<text x="319.99" y="302.8" font-size="5.8" text-anchor="start" fill="#222" transform="rotate(-90 319.99 302.8)" textLength="12.76" lengthAdjust="spacingAndGlyphs">100%</text>
<text x="321.1" y="397.8" font-size="6.1" text-anchor="end" fill="#111" stroke="#111" stroke-width="0.1" transform="rotate(-45 321.1 397.8)" textLength="12.24" lengthAdjust="spacingAndGlyphs">ID32</text>
<rect x="325.3" y="303.8" width="10" height="84.8" fill="#69aa41"/>
<text x="332.39" y="302.8" font-size="5.8" text-anchor="start" fill="#222" transform="rotate(-90 332.39 302.8)" textLength="12.76" lengthAdjust="spacingAndGlyphs">100%</text>
<text x="333.5" y="397.8" font-size="6.1" text-anchor="end" fill="#111" stroke="#111" stroke-width="0.1" transform="rotate(-45 333.5 397.8)" textLength="12.24" lengthAdjust="spacingAndGlyphs">ID48</text>
<rect x="337.7" y="303.8" width="10" height="84.8" fill="#69aa41"/>
<text x="344.79" y="302.8" font-size="5.8" text-anchor="start" fill="#222" transform="rotate(-90 344.79 302.8)" textLength="12.76" lengthAdjust="spacingAndGlyphs">100%</text>
<text x="345.9" y="397.8" font-size="6.1" text-anchor="end" fill="#111" stroke="#111" stroke-width="0.1" transform="rotate(-45 345.9 397.8)" textLength="12.24" lengthAdjust="spacingAndGlyphs">ID52</text>
<rect x="350.1" y="303.8" width="10" height="84.8" fill="#69aa41"/>
<text x="357.19" y="302.8" font-size="5.8" text-anchor="start" fill="#222" transform="rotate(-90 357.19 302.8)" textLength="12.76" lengthAdjust="spacingAndGlyphs">100%</text>
<text x="358.3" y="397.8" font-size="6.1" text-anchor="end" fill="#111" stroke="#111" stroke-width="0.1" transform="rotate(-45 358.3 397.8)" textLength="12.24" lengthAdjust="spacingAndGlyphs">ID38</text>
<rect x="362.5" y="303.8" width="10" height="84.8" fill="#69aa41"/>
<text x="369.59" y="302.8" font-size="5.8" text-anchor="start" fill="#222" transform="rotate(-90 369.59 302.8)" textLength="12.76" lengthAdjust="spacingAndGlyphs">100%</text>
<text x="370.7" y="397.8" font-size="6.1" text-anchor="end" fill="#111" stroke="#111" stroke-width="0.1" transform="rotate(-45 370.7 397.8)" textLength="12.24" lengthAdjust="spacingAndGlyphs">ID41</text>
<rect x="374.9" y="303.8" width="10" height="84.8" fill="#69aa41"/>
<text x="381.99" y="302.8" font-size="5.8" text-anchor="start" fill="#222" transform="rotate(-90 381.99 302.8)" textLength="12.76" lengthAdjust="spacingAndGlyphs">100%</text>
<text x="383.1" y="397.8" font-size="6.1" text-anchor="end" fill="#111" stroke="#111" stroke-width="0.1" transform="rotate(-45 383.1 397.8)" textLength="12.24" lengthAdjust="spacingAndGlyphs">ID31</text>
<rect x="387.3" y="303.8" width="10" height="84.8" fill="#69aa41"/>
<text x="394.39" y="302.8" font-size="5.8" text-anchor="start" fill="#222" transform="rotate(-90 394.39 302.8)" textLength="12.76" lengthAdjust="spacingAndGlyphs">100%</text>
<text x="395.5" y="397.8" font-size="6.1" text-anchor="end" fill="#111" stroke="#111" stroke-width="0.1" transform="rotate(-45 395.5 397.8)" textLength="12.24" lengthAdjust="spacingAndGlyphs">ID34</text>
<rect x="399.7" y="303.8" width="10" height="84.8" fill="#69aa41"/>
<text x="406.79" y="302.8" font-size="5.8" text-anchor="start" fill="#222" transform="rotate(-90 406.79 302.8)" textLength="12.76" lengthAdjust="spacingAndGlyphs">100%</text>
<text x="407.9" y="397.8" font-size="6.1" text-anchor="end" fill="#111" stroke="#111" stroke-width="0.1" transform="rotate(-45 407.9 397.8)" textLength="12.24" lengthAdjust="spacingAndGlyphs">ID39</text>
<rect x="412.1" y="303.8" width="10" height="84.8" fill="#69aa41"/>
<text x="419.19" y="302.8" font-size="5.8" text-anchor="start" fill="#222" transform="rotate(-90 419.19 302.8)" textLength="12.76" lengthAdjust="spacingAndGlyphs">100%</text>
<text x="420.3" y="397.8" font-size="6.1" text-anchor="end" fill="#111" stroke="#111" stroke-width="0.1" transform="rotate(-45 420.3 397.8)" textLength="12.24" lengthAdjust="spacingAndGlyphs">ID43</text>
<rect x="424.5" y="303.8" width="10" height="84.8" fill="#c7c6cc"/>
<rect x="424.5" y="317.96" width="10" height="70.64" fill="#69aa41"/>
<text x="431.59" y="316.96" font-size="5.8" text-anchor="start" fill="#222" transform="rotate(-90 431.59 316.96)" textLength="12.76" lengthAdjust="spacingAndGlyphs">183%</text>
<text x="432.7" y="397.8" font-size="6.1" text-anchor="end" fill="#111" stroke="#111" stroke-width="0.1" transform="rotate(-45 432.7 397.8)" textLength="12.24" lengthAdjust="spacingAndGlyphs">ID51</text>
<rect x="436.9" y="303.8" width="10" height="84.8" fill="#c7c6cc"/>
<rect x="436.9" y="325" width="10" height="63.6" fill="#69aa41"/>
<text x="443.99" y="324" font-size="5.8" text-anchor="start" fill="#222" transform="rotate(-90 443.99 324)" textLength="9.98" lengthAdjust="spacingAndGlyphs">75%</text>
<text x="445.1" y="397.8" font-size="6.1" text-anchor="end" fill="#111" stroke="#111" stroke-width="0.1" transform="rotate(-45 445.1 397.8)" textLength="12.24" lengthAdjust="spacingAndGlyphs">ID37</text>
<rect x="449.3" y="303.8" width="10" height="84.8" fill="#c7c6cc"/>
<rect x="449.3" y="332.04" width="10" height="56.56" fill="#69aa41"/>
<text x="456.39" y="331.04" font-size="5.8" text-anchor="start" fill="#222" transform="rotate(-90 456.39 331.04)" textLength="9.98" lengthAdjust="spacingAndGlyphs">66%</text>
<text x="457.5" y="397.8" font-size="6.1" text-anchor="end" fill="#111" stroke="#111" stroke-width="0.1" transform="rotate(-45 457.5 397.8)" textLength="12.24" lengthAdjust="spacingAndGlyphs">ID49</text>
<rect x="461.7" y="303.8" width="10" height="84.8" fill="#c7c6cc"/>
<rect x="461.7" y="346.2" width="10" height="42.4" fill="#69aa41"/>
<text x="468.79" y="345.2" font-size="5.8" text-anchor="start" fill="#222" transform="rotate(-90 468.79 345.2)" textLength="9.98" lengthAdjust="spacingAndGlyphs">50%</text>
<text x="469.9" y="397.8" font-size="6.1" text-anchor="end" fill="#111" stroke="#111" stroke-width="0.1" transform="rotate(-45 469.9 397.8)" textLength="12.24" lengthAdjust="spacingAndGlyphs">ID42</text>
<rect x="474.1" y="303.8" width="10" height="84.8" fill="#c7c6cc"/>
<text x="481.19" y="386.4" font-size="5.8" text-anchor="start" fill="#222" transform="rotate(-90 481.19 386.4)" textLength="7.21" lengthAdjust="spacingAndGlyphs">0%</text>
<text x="482.3" y="397.8" font-size="6.1" text-anchor="end" fill="#111" stroke="#111" stroke-width="0.1" transform="rotate(-45 482.3 397.8)" textLength="12.24" lengthAdjust="spacingAndGlyphs">ID35</text>
<rect x="486.5" y="303.8" width="10" height="84.8" fill="#c7c6cc"/>
<text x="493.59" y="386.4" font-size="5.8" text-anchor="start" fill="#222" transform="rotate(-90 493.59 386.4)" textLength="7.21" lengthAdjust="spacingAndGlyphs">0%</text>
<text x="494.7" y="397.8" font-size="6.1" text-anchor="end" fill="#111" stroke="#111" stroke-width="0.1" transform="rotate(-45 494.7 397.8)" textLength="12.24" lengthAdjust="spacingAndGlyphs">ID36</text>
<rect x="498.9" y="303.8" width="10" height="84.8" fill="#c7c6cc"/>
<text x="505.99" y="386.4" font-size="5.8" text-anchor="start" fill="#222" transform="rotate(-90 505.99 386.4)" textLength="7.21" lengthAdjust="spacingAndGlyphs">0%</text>
<text x="507.1" y="397.8" font-size="6.1" text-anchor="end" fill="#111" stroke="#111" stroke-width="0.1" transform="rotate(-45 507.1 397.8)" textLength="12.24" lengthAdjust="spacingAndGlyphs">ID47</text>
<line x1="311.7" y1="301" x2="311.7" y2="389.2" stroke="#000" stroke-width="1.2"/>
<line x1="308.7" y1="388.6" x2="311.7" y2="388.6" stroke="#000" stroke-width="1.2"/>
<text x="305" y="390.8" font-size="6.1" text-anchor="end" fill="#111" stroke="#111" stroke-width="0.03">0%</text>
<line x1="308.7" y1="371.64" x2="311.7" y2="371.64" stroke="#000" stroke-width="1.2"/>
<text x="305" y="373.84" font-size="6.1" text-anchor="end" fill="#111" stroke="#111" stroke-width="0.03">20%</text>
<line x1="308.7" y1="354.68" x2="311.7" y2="354.68" stroke="#000" stroke-width="1.2"/>
<text x="305" y="356.88" font-size="6.1" text-anchor="end" fill="#111" stroke="#111" stroke-width="0.03">40%</text>
<line x1="308.7" y1="337.72" x2="311.7" y2="337.72" stroke="#000" stroke-width="1.2"/>
<text x="305" y="339.92" font-size="6.1" text-anchor="end" fill="#111" stroke="#111" stroke-width="0.03">60%</text>
<line x1="308.7" y1="320.76" x2="311.7" y2="320.76" stroke="#000" stroke-width="1.2"/>
<text x="305" y="322.96" font-size="6.1" text-anchor="end" fill="#111" stroke="#111" stroke-width="0.03">80%</text>
<line x1="308.7" y1="303.8" x2="311.7" y2="303.8" stroke="#000" stroke-width="1.2"/>
<text x="305" y="306" font-size="6.1" text-anchor="end" fill="#111" stroke="#111" stroke-width="0.03">100%</text>
<line x1="311.1" y1="388.6" x2="512.8" y2="388.6" stroke="#000" stroke-width="1.2"/>
<line x1="311.7" y1="388.6" x2="311.7" y2="391.6" stroke="#000" stroke-width="1.2"/>
<line x1="324.1" y1="388.6" x2="324.1" y2="391.6" stroke="#000" stroke-width="1.2"/>
<line x1="336.5" y1="388.6" x2="336.5" y2="391.6" stroke="#000" stroke-width="1.2"/>
<line x1="348.9" y1="388.6" x2="348.9" y2="391.6" stroke="#000" stroke-width="1.2"/>
<line x1="361.3" y1="388.6" x2="361.3" y2="391.6" stroke="#000" stroke-width="1.2"/>
<line x1="373.7" y1="388.6" x2="373.7" y2="391.6" stroke="#000" stroke-width="1.2"/>
<line x1="386.1" y1="388.6" x2="386.1" y2="391.6" stroke="#000" stroke-width="1.2"/>
<line x1="398.5" y1="388.6" x2="398.5" y2="391.6" stroke="#000" stroke-width="1.2"/>
<line x1="410.9" y1="388.6" x2="410.9" y2="391.6" stroke="#000" stroke-width="1.2"/>
<line x1="423.3" y1="388.6" x2="423.3" y2="391.6" stroke="#000" stroke-width="1.2"/>
<line x1="435.7" y1="388.6" x2="435.7" y2="391.6" stroke="#000" stroke-width="1.2"/>
<line x1="448.1" y1="388.6" x2="448.1" y2="391.6" stroke="#000" stroke-width="1.2"/>
<line x1="460.5" y1="388.6" x2="460.5" y2="391.6" stroke="#000" stroke-width="1.2"/>
<line x1="472.9" y1="388.6" x2="472.9" y2="391.6" stroke="#000" stroke-width="1.2"/>
<line x1="485.3" y1="388.6" x2="485.3" y2="391.6" stroke="#000" stroke-width="1.2"/>
<line x1="497.7" y1="388.6" x2="497.7" y2="391.6" stroke="#000" stroke-width="1.2"/>
<line x1="510.1" y1="388.6" x2="510.1" y2="391.6" stroke="#000" stroke-width="1.2"/>
<text x="273.6" y="344.2" font-size="9.2" text-anchor="middle" fill="#222" transform="rotate(-90 273.6 344.2)" textLength="95.6" lengthAdjust="spacingAndGlyphs">Biopsy confirmed mutations</text>
<text x="283.3" y="344.8" font-size="9.2" text-anchor="middle" fill="#222" transform="rotate(-90 283.3 344.8)" textLength="66" lengthAdjust="spacingAndGlyphs">identified in plasma</text>
</g>
<g shape-rendering="crispEdges">
<rect x="1" y="1" width="518" height="1" fill="#8a8a8a"/><rect x="1" y="417" width="518" height="1" fill="#8a8a8a"/>
<rect x="1" y="1" width="1" height="417" fill="#808080"/><rect x="518" y="1" width="1" height="417" fill="#808080"/>
<rect x="0" y="0" width="520" height="1" fill="#000"/><rect x="0" y="418" width="520" height="1" fill="#000"/>
<rect x="0" y="0" width="1" height="419" fill="#000"/><rect x="519" y="0" width="1" height="419" fill="#000"/>
</g>
</svg>
</body></html>
